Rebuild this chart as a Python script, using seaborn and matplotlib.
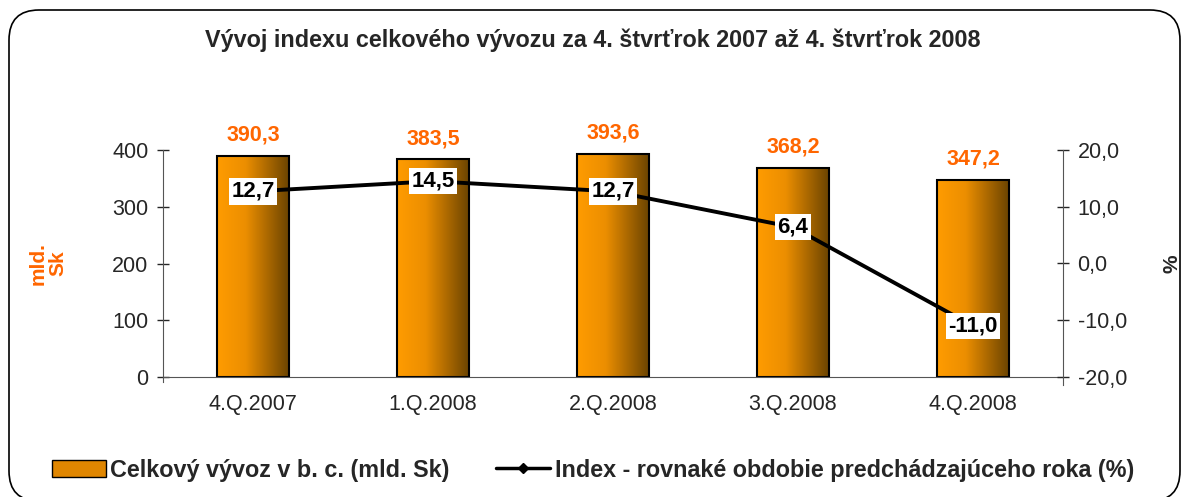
import matplotlib
matplotlib.use("Agg")
import matplotlib.pyplot as plt
import seaborn as sns
import pandas as pd
import numpy as np
from matplotlib.patches import Patch, FancyBboxPatch
from matplotlib.lines import Line2D
from matplotlib.colors import LinearSegmentedColormap

quarters = ['4.Q.2007', '1.Q.2008', '2.Q.2008', '3.Q.2008', '4.Q.2008']
vyvoz = [390.3, 383.5, 393.6, 368.2, 347.2]
index = [12.7, 14.5, 12.7, 6.4, -11.0]

sns.set_style("white")
plt.rcParams['font.family'] = ['Liberation Sans', 'DejaVu Sans']

df = pd.DataFrame({'stvrtrok': quarters, 'vyvoz': vyvoz, 'index': index})

fig = plt.figure(figsize=(11.86, 4.97), dpi=100)
ax = fig.add_axes([163 / 1186, 1 - 377 / 497, 900 / 1186, 227 / 497])

# rounded frame round the whole chart (inches)
frame = FancyBboxPatch((0.09, -0.04), 11.71, 4.91,
                       boxstyle="round,pad=0,rounding_size=0.3",
                       transform=fig.dpi_scale_trans, facecolor='none',
                       edgecolor='black', linewidth=1.2)
fig.patches.append(frame)

sns.barplot(data=df, x='stvrtrok', y='vyvoz', ax=ax, width=0.4,
            color='#FF9900', edgecolor='black', linewidth=1.5, zorder=2)

# gradient fill in bars
grad_cmap = LinearSegmentedColormap.from_list(
    'g', [(0, '#FF9C00'), (0.4, '#EC8E00'), (1, '#6B4400')])
grad = np.linspace(0, 1, 256).reshape(1, -1)
for bar in ax.patches:
    x0, y0 = bar.get_x(), bar.get_y()
    w, h = bar.get_width(), bar.get_height()
    im = ax.imshow(grad, cmap=grad_cmap, extent=[x0, x0 + w, y0, y0 + h],
                   aspect='auto', zorder=1.5, interpolation='bicubic')
    im.set_clip_path(bar)
    bar.set_facecolor('none')

for i, v in enumerate(vyvoz):
    ax.text(i, v + 18, f"{v:.1f}".replace('.', ','), ha='center', va='bottom',
            color='#FF6600', fontsize=15.5, fontweight='bold')

ax.set_xlim(-0.5, 4.5)
ax.set_ylim(0, 400)
ax.set_yticks([0, 100, 200, 300, 400])
ax.set_xlabel('')
ax.set_ylabel('mld.\nSk', color='#FF6600', fontsize=15, fontweight='bold',
              linespacing=1.0)
ax.yaxis.set_label_coords((67 - 163) / 900, 0.5)
ax.tick_params(axis='y', direction='inout', length=9, width=1, labelsize=15.5, pad=6)
ax.tick_params(axis='x', length=0, labelsize=15.5, pad=12)
for s in ['top', 'right']:
    ax.spines[s].set_visible(False)
ax.spines['left'].set_color('#555555')
ax.spines['bottom'].set_color('#555555')
ax.spines['left'].set_bounds(-8, 400)

ax2 = ax.twinx()
sns.lineplot(data=df, x='stvrtrok', y='index', ax=ax2, sort=False, color='black',
             linewidth=2.8, marker='D', markersize=5)
ax2.set_ylim(-20, 20)
ax2.set_yticks([-20, -10, 0, 10, 20])
ax2.set_yticklabels([f"{t:.1f}".replace('.', ',') for t in [-20, -10, 0, 10, 20]])
ax2.set_ylabel('%', fontsize=15, fontweight='bold')
ax2.yaxis.set_label_coords((1162 - 163) / 900, 0.5)
ax2.tick_params(axis='y', direction='inout', length=9, width=1, labelsize=15.5, pad=6)
for s in ['top', 'left', 'bottom']:
    ax2.spines[s].set_visible(False)
ax2.spines['right'].set_color('#555555')
ax2.spines['right'].set_bounds(-21.4, 20)

for i, v in enumerate(index):
    ax2.text(i, v, f"{v:.1f}".replace('.', ','), ha='center', va='center',
             fontsize=16, fontweight='bold', color='black',
             bbox=dict(facecolor='white', edgecolor='none', pad=2))

fig.suptitle('Vývoj indexu celkového vývozu za 4. štvrťrok 2007 až 4. štvrťrok 2008',
             y=1 - 40 / 497, va='center', fontsize=16.8, fontweight='bold')

handles = [Patch(facecolor='#E08600', edgecolor='black'),
           Line2D([], [], color='black', linewidth=2.5, marker='D', markersize=5)]
fig.legend(handles, ['Celkový vývoz v b. c. (mld. Sk)',
                     'Index - rovnaké obdobie predchádzajúceho roka (%)'],
           loc='center', bbox_to_anchor=(0.5, 1 - 470 / 497), ncol=2, frameon=False,
           prop={'weight': 'bold', 'size': 16.8}, handlelength=2.3, columnspacing=2.0,
           handletextpad=0.2)

fig.savefig('out.png', dpi=100)
